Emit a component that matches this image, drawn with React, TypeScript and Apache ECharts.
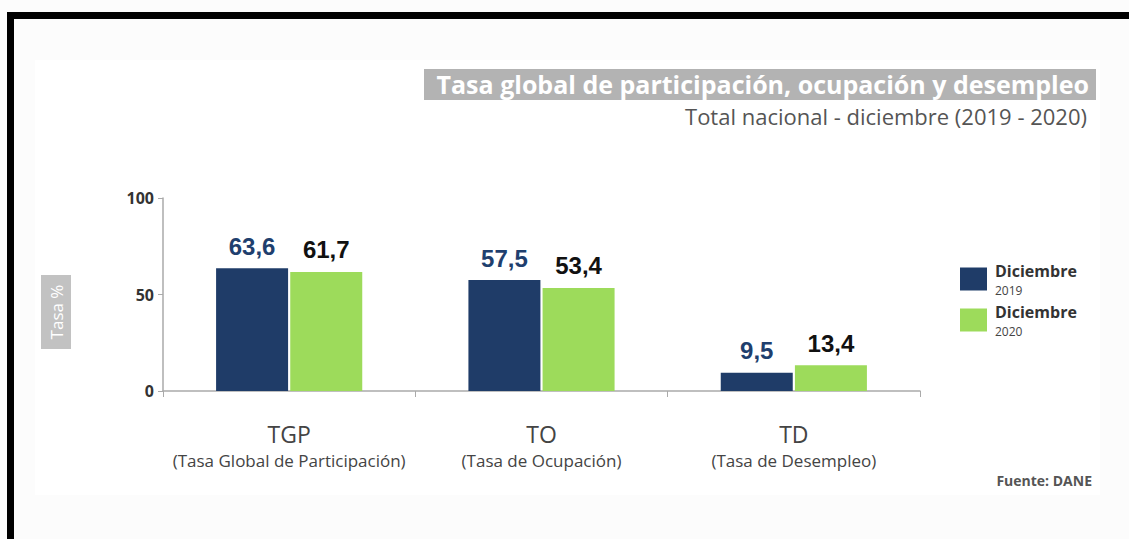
import React, { useEffect, useRef } from "react";
import * as echarts from "echarts";

const categories = ["TGP", "TO", "TD"];
const categoryDescriptions = [
  "(Tasa Global de Participación)",
  "(Tasa de Ocupación)",
  "(Tasa de Desempleo)",
];
const seriesNames = ["Diciembre 2019", "Diciembre 2020"];
const values2019 = [63.6, 57.5, 9.5];
const values2020 = [61.7, 53.4, 13.4];
const yTicks = [0, 50, 100];

const fmt = (v: number) => v.toFixed(1).replace(".", ",");

export default function App() {
  const ref = useRef<HTMLDivElement>(null);
  useEffect(() => {
    if (!ref.current) return;
    const chart = echarts.init(ref.current, undefined, { renderer: "svg" });
    chart.setOption({
      animation: false,
      backgroundColor: "#fcfcfc",
      grid: { left: 163, right: 209, top: 198, bottom: 148 },
      legend: {
        orient: "vertical",
        left: 955,
        top: 258,
        itemWidth: 27,
        itemHeight: 23,
        itemGap: 8,
        icon: "rect",
        data: seriesNames,
        formatter: (name: string) => {
          const [a, b] = name.split(" ");
          return `{a|${a}}\n{b|${b}}`;
        },
        textStyle: {
          padding: [0, 0, 0, 3],
          rich: {
            a: { fontFamily: "Open Sans", fontWeight: "bold", fontSize: 16, color: "#333", lineHeight: 22 },
            b: { fontFamily: "Open Sans", fontSize: 12, color: "#444", lineHeight: 16 },
          },
        },
      },
      xAxis: {
        type: "category",
        data: categories,
        axisLine: { lineStyle: { color: "#aaaaaa", width: 1.5 } },
        axisTick: { show: true, length: 6, lineStyle: { color: "#aaaaaa" } },
        axisLabel: {
          margin: 27,
          formatter: (v: string, i: number) => `{a|${v}}\n{b|${categoryDescriptions[i]}}`,
          rich: {
            a: { fontFamily: "Open Sans", fontSize: 23, color: "#444", lineHeight: 31 },
            b: { fontFamily: "Open Sans", fontSize: 17, color: "#444", lineHeight: 23 },
          },
        },
      },
      yAxis: {
        type: "value",
        min: yTicks[0],
        max: yTicks[yTicks.length - 1],
        interval: 50,
        axisLine: { show: true, lineStyle: { color: "#aaaaaa", width: 1.5 } },
        axisTick: { show: true, length: 5, lineStyle: { color: "#aaaaaa" } },
        splitLine: { show: false },
        axisLabel: {
          margin: 9,
          fontFamily: "Open Sans",
          fontWeight: "bold",
          fontSize: 16,
          color: "#333",
        },
      },
      series: [
        {
          name: seriesNames[0],
          type: "bar",
          data: values2019,
          barWidth: 72,
          barGap: "3%",
          itemStyle: { color: "#1f3c68" },
          label: {
            show: true,
            position: "top",
            distance: 10,
            formatter: (p: any) => fmt(p.value),
            fontFamily: "Liberation Sans",
            fontWeight: "bold",
            fontSize: 24,
            color: "#1f3f6e",
          },
        },
        {
          name: seriesNames[1],
          type: "bar",
          data: values2020,
          barWidth: 72,
          barGap: "3%",
          itemStyle: { color: "#9ddb5b" },
          label: {
            show: true,
            position: "top",
            distance: 10,
            formatter: (p: any) => fmt(p.value),
            fontFamily: "Liberation Sans",
            fontWeight: "bold",
            fontSize: 24,
            color: "#111",
          },
        },
      ],
      graphic: [
        { type: "rect", z: -10, shape: { x: 35, y: 60, width: 1065, height: 435 }, style: { fill: "#ffffff" } },
        { type: "rect", shape: { x: 7, y: 12, width: 1122, height: 7 }, style: { fill: "#000" } },
        { type: "rect", shape: { x: 7, y: 12, width: 7, height: 527 }, style: { fill: "#000" } },
        { type: "rect", shape: { x: 424, y: 69, width: 672, height: 31 }, style: { fill: "#b3b3b3" } },
        {
          type: "text",
          x: 1089,
          y: 84,
          style: {
            text: "Tasa global de participación, ocupación y desempleo",
            align: "right",
            verticalAlign: "middle",
            fill: "#fff",
            font: "bold 25px 'Open Sans'",
          },
        },
        {
          type: "text",
          x: 1087,
          y: 116,
          style: {
            text: "Total nacional - diciembre (2019 - 2020)",
            align: "right",
            verticalAlign: "middle",
            fill: "#555",
            font: "22px 'Open Sans'",
          },
        },
        { type: "rect", shape: { x: 41, y: 275, width: 30, height: 74 }, style: { fill: "#c2c2c2" } },
        {
          type: "text",
          x: 56,
          y: 312,
          rotation: Math.PI / 2,
          style: {
            text: "Tasa %",
            align: "center",
            verticalAlign: "middle",
            fill: "#fff",
            font: "17px 'Open Sans'",
          },
        },
        {
          type: "text",
          x: 1092,
          y: 480,
          style: {
            text: "Fuente: DANE",
            align: "right",
            verticalAlign: "middle",
            fill: "#555",
            font: "bold 14px 'Open Sans'",
          },
        },
      ],
    });
    return () => chart.dispose();
  }, []);
  return (
    <div
      ref={ref}
      style={{ position: "fixed", left: 0, top: 0, width: 1129, height: 539 }}
    />
  );
}
